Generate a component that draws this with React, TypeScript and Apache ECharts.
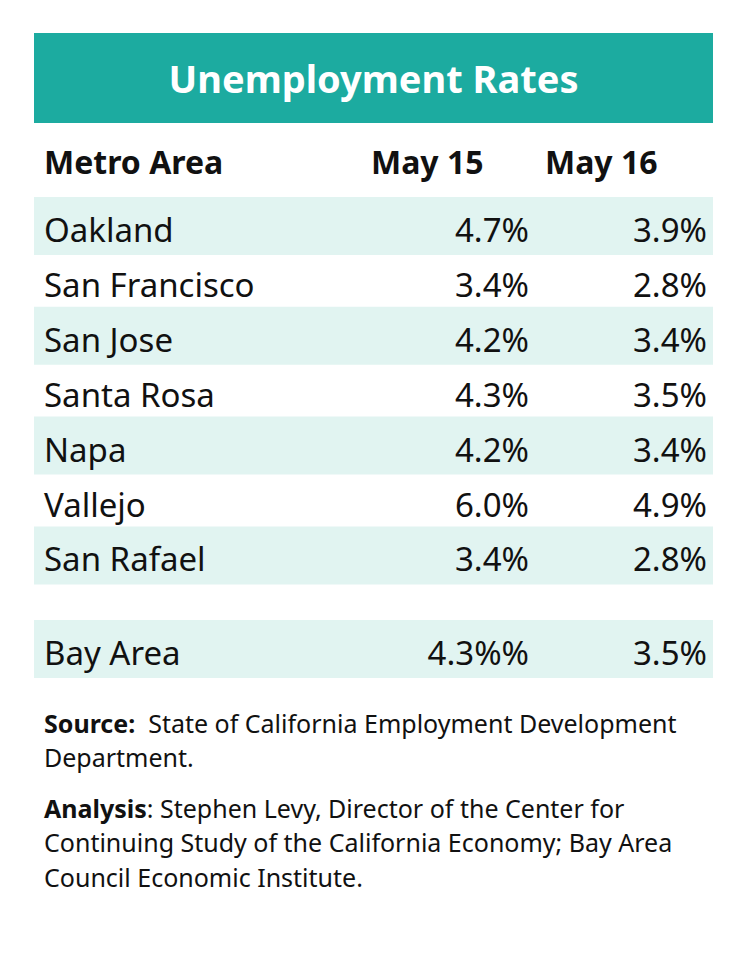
import React, { useEffect, useRef } from "react";
import * as echarts from "echarts";

const title = "Unemployment Rates";
const columnHeaders = ["Metro Area", "May 15", "May 16"];
const metros = ["Oakland", "San Francisco", "San Jose", "Santa Rosa", "Napa", "Vallejo", "San Rafael"];
const may15 = ["4.7%", "3.4%", "4.2%", "4.3%", "4.2%", "6.0%", "3.4%"];
const may16 = ["3.9%", "2.8%", "3.4%", "3.5%", "3.4%", "4.9%", "2.8%"];
const totalLabel = "Bay Area";
const total15 = "4.3%%";
const total16 = "3.5%";
const sourceLabel = "Source:";
const sourceLines = ["  State of California Employment Development", "Department."];
const analysisLabel = "Analysis";
const analysisLines = [
  ": Stephen Levy, Director of the Center for",
  "Continuing Study of the California Economy; Bay Area",
  "Council Economic Institute.",
];

const FONT = "'Noto Sans', sans-serif";
const TEAL = "#1CABA0";
const BAND = "#E1F4F1";
const INK = "#111111";

export default function App() {
  const ref = useRef<HTMLDivElement>(null);
  useEffect(() => {
    document.body.style.margin = "0";
    const chart = echarts.init(ref.current!, null, { renderer: "svg" });
    const g: any[] = [];
    const left = 34;
    const width = 679;
    g.push({ type: "rect", shape: { x: left, y: 33, width, height: 90 }, style: { fill: TEAL } });
    g.push({
      type: "text",
      style: { text: title, x: 373.5, y: 78, fill: "#fff", font: `bold 38px ${FONT}`, align: "center", verticalAlign: "middle" },
    });
    const headerX = [44, 371, 545];
    columnHeaders.forEach((h, i) => {
      g.push({
        type: "text",
        style: { text: h, x: headerX[i], y: 161, fill: INK, font: `bold 32px ${FONT}`, align: "left", verticalAlign: "middle" },
      });
    });
    const rowTop0 = 197;
    const pitch = 54.9;
    const rowFont = `33px ${FONT}`;
    const addRow = (top: number, shaded: boolean, name: string, a: string, b: string) => {
      if (shaded) g.push({ type: "rect", shape: { x: left, y: top, width, height: 58 }, style: { fill: BAND } });
      const cy = top + 32.5;
      g.push({ type: "text", style: { text: name, x: 44, y: cy, fill: INK, font: rowFont, align: "left", verticalAlign: "middle" } });
      g.push({ type: "text", style: { text: a, x: 529, y: cy, fill: INK, font: rowFont, align: "right", verticalAlign: "middle" } });
      g.push({ type: "text", style: { text: b, x: 707, y: cy, fill: INK, font: rowFont, align: "right", verticalAlign: "middle" } });
    };
    metros.forEach((m, i) => addRow(rowTop0 + pitch * i, i % 2 === 0, m, may15[i], may16[i]));
    addRow(620, true, totalLabel, total15, total16);

    const noteFont = `25px ${FONT}`;
    const rich = { b: { font: `bold 25px ${FONT}`, fill: INK } };
    const noteY = [723, 757, 808, 842, 877];
    const notes = [
      `{b|${sourceLabel}}${sourceLines[0]}`,
      sourceLines[1],
      `{b|${analysisLabel}}${analysisLines[0]}`,
      analysisLines[1],
      analysisLines[2],
    ];
    notes.forEach((t, i) => {
      g.push({
        type: "text",
        style: { text: t, x: 44, y: noteY[i], fill: INK, font: noteFont, align: "left", verticalAlign: "middle", rich },
      });
    });

    chart.setOption({ animation: false, backgroundColor: "#fff", graphic: g });
    return () => chart.dispose();
  }, []);
  return <div ref={ref} style={{ width: 749, height: 965 }} />;
}
